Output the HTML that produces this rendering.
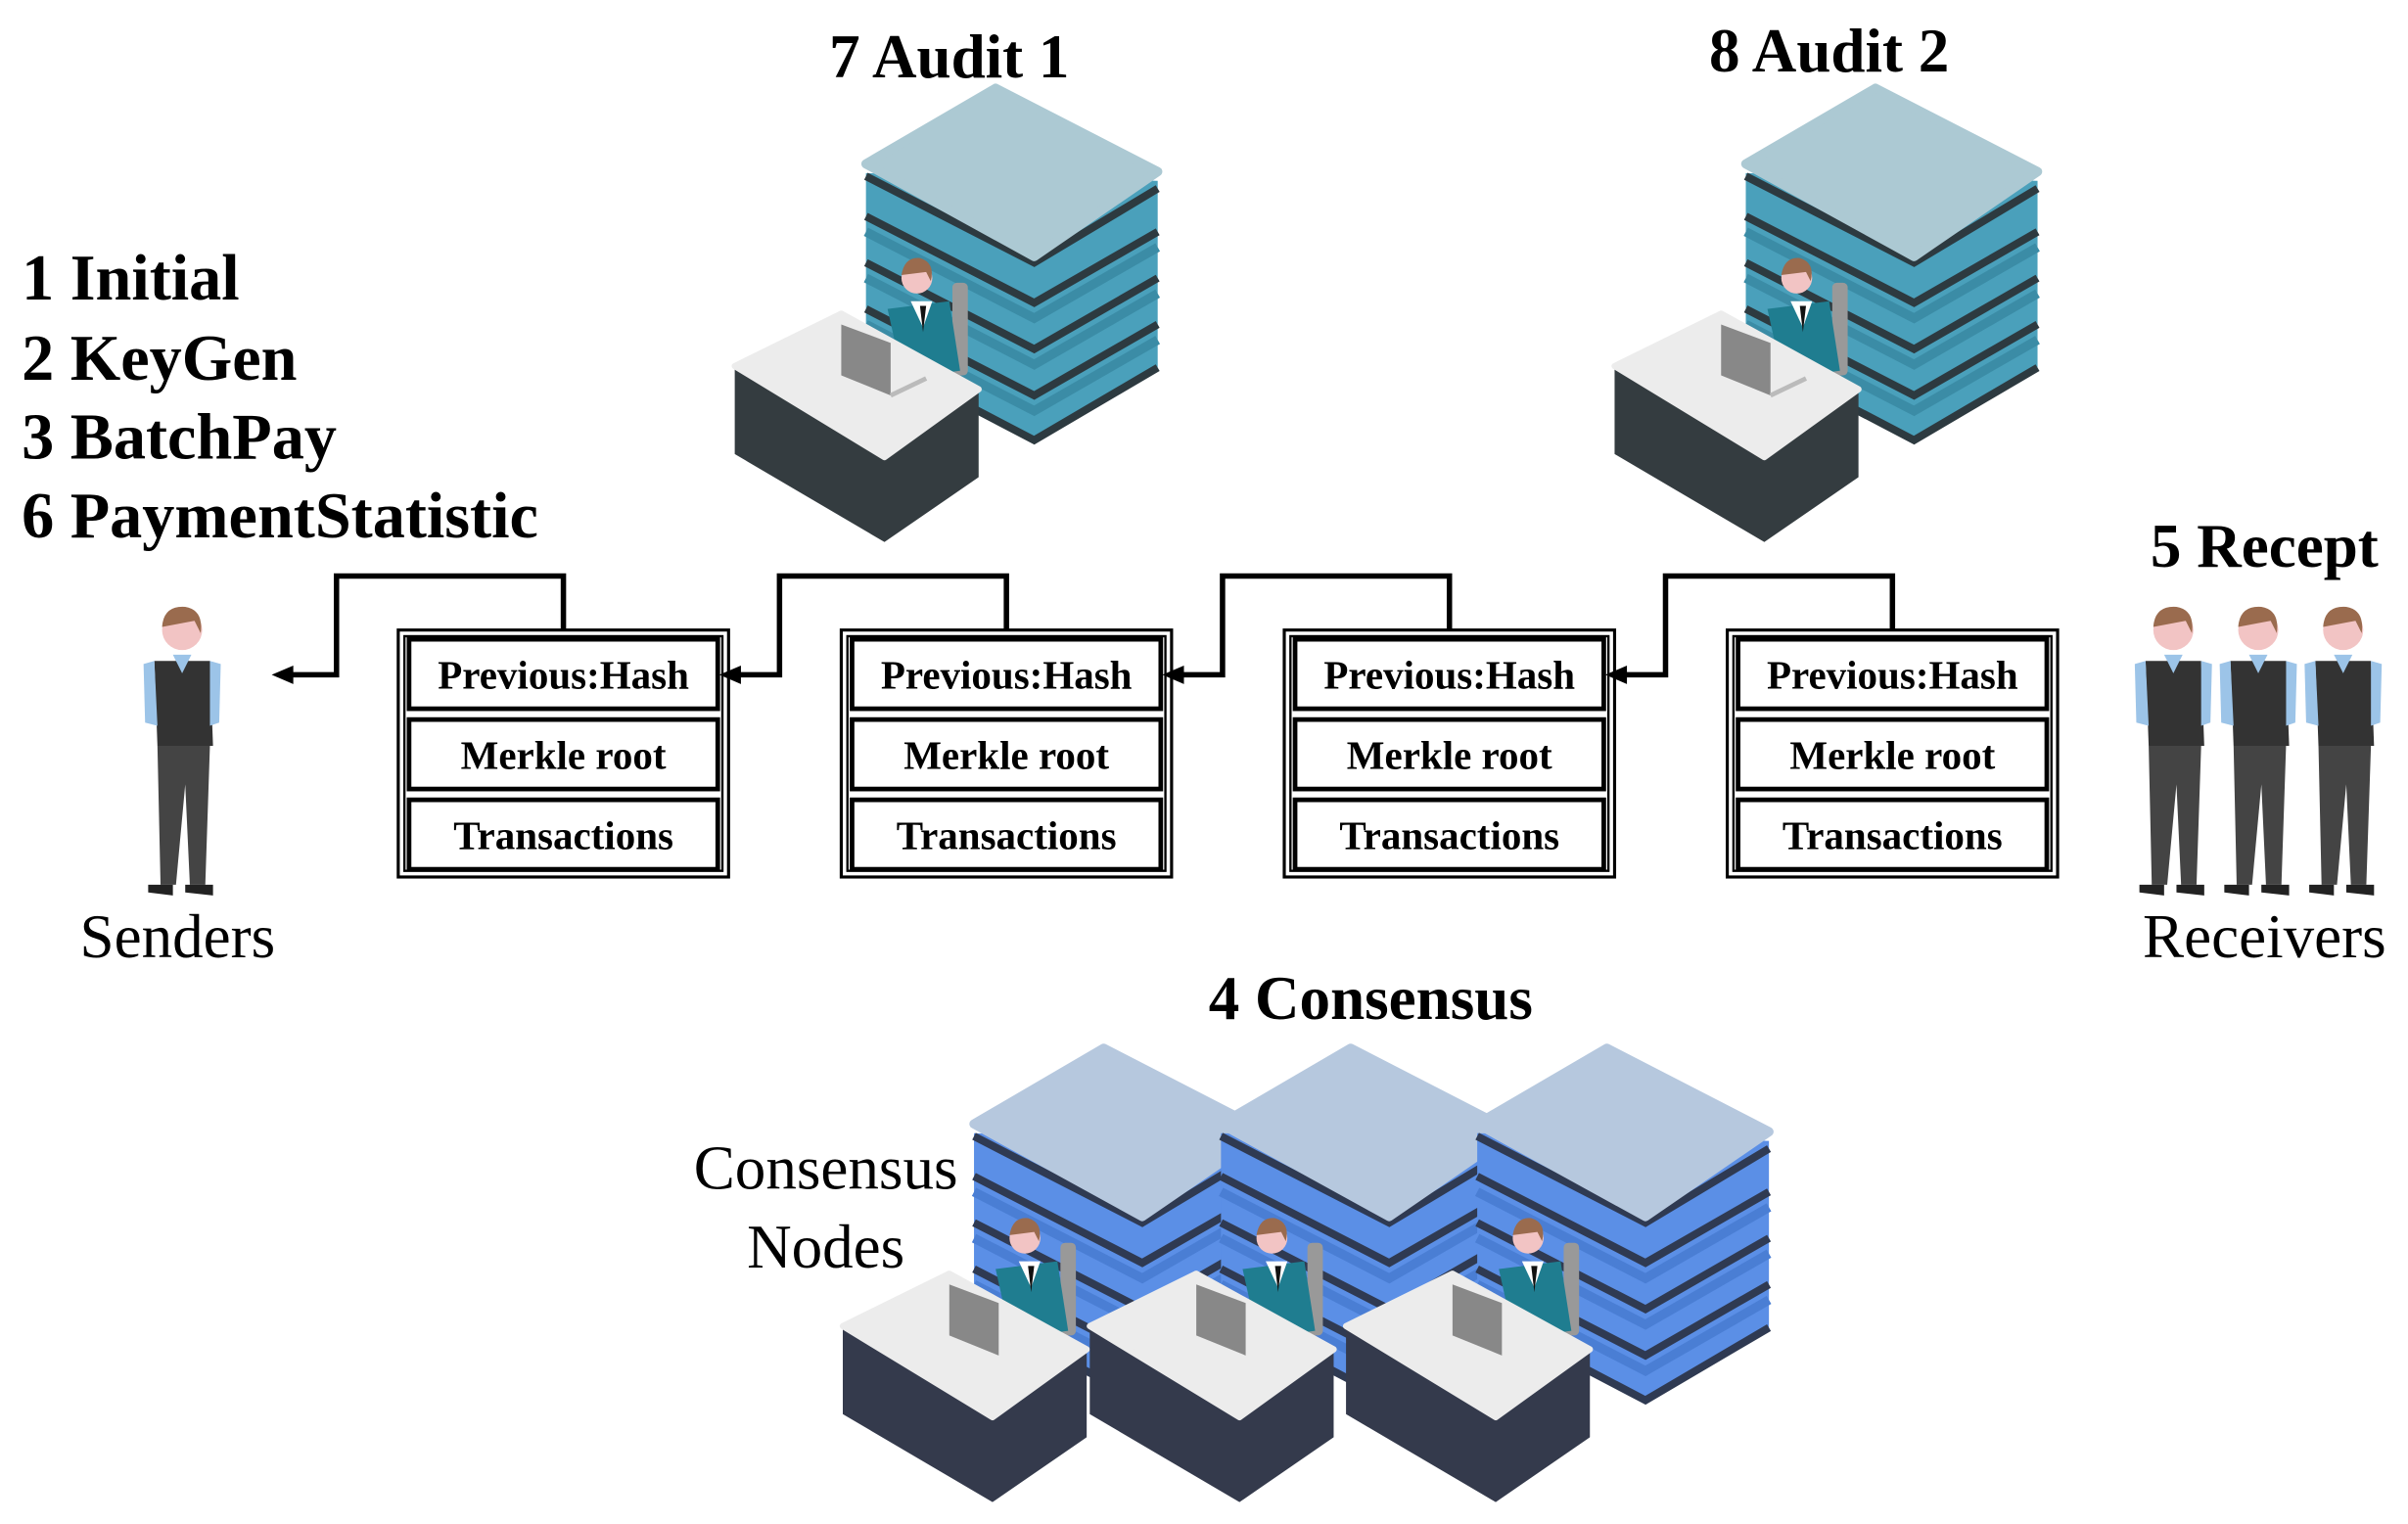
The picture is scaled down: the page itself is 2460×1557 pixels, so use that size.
<!DOCTYPE html>
<html><head><meta charset="utf-8"><style>html,body{margin:0;padding:0;background:#fff}svg{display:block}</style></head>
<body>
<svg width="2460" height="1557" viewBox="0 0 1560 987" xmlns="http://www.w3.org/2000/svg" font-family="Liberation Serif, serif">
<defs>
<g id="srv">
  <path d="M561,112 L561,228 L670,285 L750,238 L750,117 Z" fill="#4aa0bb"/>
  <path d="M561,140 L670,196 L750,150" fill="none" stroke="#2d3a40" stroke-width="5"/>
  <path d="M561,170 L670,226 L750,180" fill="none" stroke="#2d3a40" stroke-width="5"/>
  <path d="M561,200 L670,256 L750,210" fill="none" stroke="#2d3a40" stroke-width="5"/>
  <path d="M561,228 L670,285 L750,238" fill="none" stroke="#2d3a40" stroke-width="5"/>
  <path d="M561,150 L670,206 L750,160" fill="none" stroke="#3b8ca6" stroke-width="6"/>
  <path d="M561,180 L670,236 L750,190" fill="none" stroke="#3b8ca6" stroke-width="6"/>
  <path d="M561,210 L670,266 L750,220" fill="none" stroke="#3b8ca6" stroke-width="6"/>
  <path d="M561,114 L670,170 L750,122" fill="none" stroke="#2d3a40" stroke-width="5"/>
  <path d="M561,106 L645,57 L750,111 L670,166 Z" fill="#acc9d3" stroke="#acc9d3" stroke-width="6" stroke-linejoin="round"/>
  <rect x="617" y="183" width="10" height="60" rx="3" fill="#999"/>
  <path d="M575,200 L615,195 L622,240 L585,245 Z" fill="#1f7d90"/>
  <path d="M590,195 L598,212 L604,195 Z" fill="#fff"/>
  <path d="M596,198 L598,215 L600,198 Z" fill="#111"/>
  <circle cx="594" cy="180" r="10" fill="#f2c4c4"/>
  <path d="M584,178 Q586,166 596,167 Q606,170 603,182 L600,176 Z" fill="#9a6b4e"/>
  <path d="M476,237 L476,294 L573,351 L634,309 L634,252 Z" fill="#343c40"/>
  <path d="M476,237 L545,203 L634,252 L573,296 Z" fill="#ececec" stroke="#ececec" stroke-width="4" stroke-linejoin="round"/>
  <path d="M545,210 L577,222 L577,256 L545,243 Z" fill="#888"/>
  <path d="M577,256 L600,245" stroke="#bbb" stroke-width="3"/>
</g>
<g id="srvb">
  <path d="M561,112 L561,228 L670,285 L750,238 L750,117 Z" fill="#5b8fe6"/>
  <path d="M561,140 L670,196 L750,150" fill="none" stroke="#2f3a52" stroke-width="5"/>
  <path d="M561,170 L670,226 L750,180" fill="none" stroke="#2f3a52" stroke-width="5"/>
  <path d="M561,200 L670,256 L750,210" fill="none" stroke="#2f3a52" stroke-width="5"/>
  <path d="M561,228 L670,285 L750,238" fill="none" stroke="#2f3a52" stroke-width="5"/>
  <path d="M561,150 L670,206 L750,160" fill="none" stroke="#4a7ed4" stroke-width="6"/>
  <path d="M561,180 L670,236 L750,190" fill="none" stroke="#4a7ed4" stroke-width="6"/>
  <path d="M561,210 L670,266 L750,220" fill="none" stroke="#4a7ed4" stroke-width="6"/>
  <path d="M561,114 L670,170 L750,122" fill="none" stroke="#2f3a52" stroke-width="5"/>
  <path d="M561,106 L645,57 L750,111 L670,166 Z" fill="#b6c8de" stroke="#b6c8de" stroke-width="6" stroke-linejoin="round"/>
</g>
<g id="deskb">
  <rect x="617" y="183" width="10" height="60" rx="3" fill="#999"/>
  <path d="M575,200 L615,195 L622,240 L585,245 Z" fill="#1f7d90"/>
  <path d="M590,195 L598,212 L604,195 Z" fill="#fff"/>
  <path d="M596,198 L598,215 L600,198 Z" fill="#111"/>
  <circle cx="594" cy="180" r="10" fill="#f2c4c4"/>
  <path d="M584,178 Q586,166 596,167 Q606,170 603,182 L600,176 Z" fill="#9a6b4e"/>
  <path d="M476,237 L476,294 L573,351 L634,309 L634,252 Z" fill="#343a4c"/>
  <path d="M476,237 L545,203 L634,252 L573,296 Z" fill="#ececec" stroke="#ececec" stroke-width="4" stroke-linejoin="round"/>
  <path d="M545,210 L577,222 L577,256 L545,243 Z" fill="#888"/>
</g>
<g id="man">
  <circle cx="0" cy="0" r="13" fill="#f2c4c4"/>
  <path d="M-13,-2 Q-12,-16 2,-15 Q14,-13 12,2 L8,-6 Z" fill="#9a6b4e"/>
  <path d="M-18,20 L18,20 L20,75 L-16,75 Z" fill="#333"/>
  <path d="M-25,22 L-18,20 L-16,62 L-24,60 Z" fill="#9cc4e8"/>
  <path d="M18,20 L25,22 L24,60 L18,62 Z" fill="#9cc4e8"/>
  <path d="M-6,16 L6,16 L0,28 Z" fill="#9cc4e8"/>
  <path d="M-16,75 L18,75 L15,165 L5,165 L2,100 L-4,165 L-14,165 Z" fill="#444"/>
  <path d="M-22,165 L-6,165 L-6,172 L-22,170 Z M2,165 L20,165 L20,172 L2,170 Z" fill="#222"/>
</g>
</defs>

<use href="#srv"/>
<use href="#srv" transform="translate(570,0)"/>

<g transform="translate(70,622)">
  <use href="#srvb" transform="translate(0,0)"/>
  <use href="#srvb" transform="translate(160,0)"/>
  <use href="#srvb" transform="translate(326,0)"/>
  <use href="#deskb" transform="translate(0,0)"/>
  <use href="#deskb" transform="translate(160,0)"/>
  <use href="#deskb" transform="translate(326,0)"/>
</g>

<use href="#man" transform="translate(118,408)"/>
<use href="#man" transform="translate(1408,408)"/>
<use href="#man" transform="translate(1463,408)"/>
<use href="#man" transform="translate(1518,408)"/>

<g fill="none" stroke="#000" stroke-width="2">
<g id="blk">
  <rect x="258" y="408" width="214" height="160"/>
  <rect x="262" y="412" width="206" height="152" stroke-width="1.5"/>
  <rect x="265" y="414" width="200" height="45" stroke-width="3"/>
  <rect x="265" y="466" width="200" height="45" stroke-width="3"/>
  <rect x="265" y="518" width="200" height="45" stroke-width="3"/>
</g>
<use href="#blk" transform="translate(287,0)"/>
<use href="#blk" transform="translate(574,0)"/>
<use href="#blk" transform="translate(861,0)"/>
</g>
<g font-weight="bold" font-size="26" text-anchor="middle" fill="#000">
  <text x="365" y="446">Previous:Hash</text><text x="365" y="498">Merkle root</text><text x="365" y="550">Transactions</text>
  <text x="652" y="446">Previous:Hash</text><text x="652" y="498">Merkle root</text><text x="652" y="550">Transactions</text>
  <text x="939" y="446">Previous:Hash</text><text x="939" y="498">Merkle root</text><text x="939" y="550">Transactions</text>
  <text x="1226" y="446">Previous:Hash</text><text x="1226" y="498">Merkle root</text><text x="1226" y="550">Transactions</text>
</g>

<g fill="none" stroke="#000" stroke-width="3.5">
  <path d="M365,408 V373 H218 V437 H186"/>
  <path d="M652,408 V373 H505 V437 H476"/>
  <path d="M939,408 V373 H792 V437 H763"/>
  <path d="M1226,408 V373 H1079 V437 H1050"/>
</g>
<g fill="#000">
  <path d="M176,437 L190,431 L190,443 Z"/>
  <path d="M466,437 L480,431 L480,443 Z"/>
  <path d="M753,437 L767,431 L767,443 Z"/>
  <path d="M1040,437 L1054,431 L1054,443 Z"/>
</g>

<g font-weight="bold" font-size="40" fill="#000">
  <text x="615" y="50" text-anchor="middle">7 Audit 1</text>
  <text x="1185" y="46" text-anchor="middle">8 Audit 2</text>
  <text x="1467" y="367" text-anchor="middle">5 Recept</text>
  <text x="888" y="660" text-anchor="middle">4 Consensus</text>
</g>
<g font-weight="bold" font-size="42" fill="#000">
  <text x="14" y="194">1 Initial</text>
  <text x="14" y="246">2 KeyGen</text>
  <text x="14" y="297">3 BatchPay</text>
  <text x="14" y="348">6 PaymentStatistic</text>
</g>
<g font-size="40" fill="#000" text-anchor="middle">
  <text x="115" y="620">Senders</text>
  <text x="1467" y="620">Receivers</text>
  <text x="535" y="770">Consensus</text>
  <text x="535" y="821">Nodes</text>
</g>
</svg>
</body></html>
